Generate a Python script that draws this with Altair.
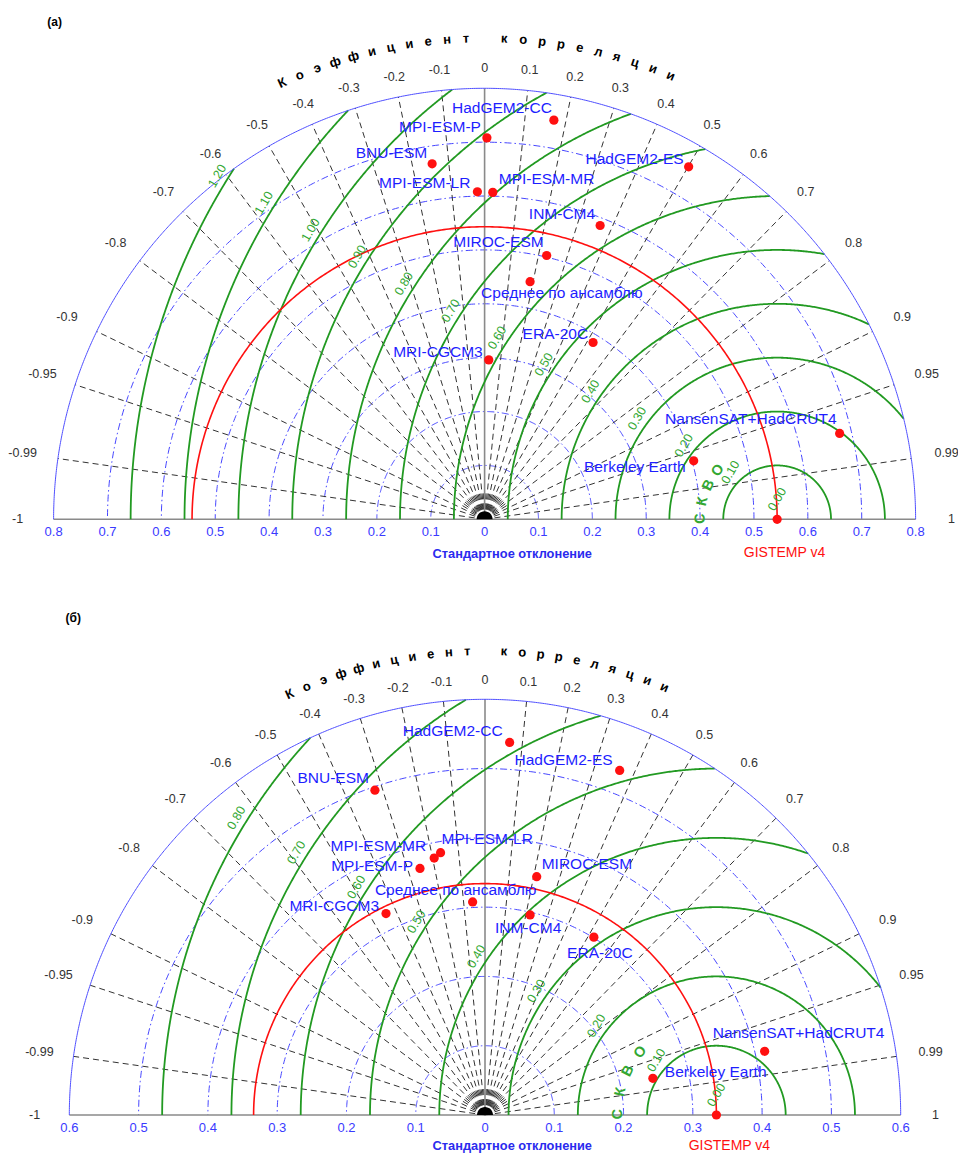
import math
import numpy as np
import pandas as pd
import altair as alt

# ---------------- data ----------------
models = ["HadGEM2-CC", "HadGEM2-ES", "BNU-ESM", "MPI-ESM-P", "MPI-ESM-LR",
          "MPI-ESM-MR", "INM-CM4", "MIROC-ESM", "Среднее по ансамблю",
          "ERA-20C", "MRI-CGCM3", "NansenSAT+HadCRUT4", "Berkeley Earth"]

# panel (a)
std_a = [0.752, 0.756, 0.667, 0.708, 0.608, 0.607, 0.586, 0.503, 0.449, 0.385, 0.296, 0.678, 0.403]
corr_a = [0.171, 0.501, -0.146, 0.006, -0.022, 0.025, 0.366, 0.229, 0.188, 0.523, 0.026, 0.972, 0.963]
ref_std_a = 0.543

# panel (б)
std_b = [0.539, 0.534, 0.495, 0.368, 0.384, 0.378, 0.296, 0.352, 0.308, 0.301, 0.324, 0.414, 0.248]
corr_b = [0.066, 0.364, -0.321, -0.255, -0.167, -0.194, 0.220, 0.212, -0.058, 0.522, -0.441, 0.975, 0.977]
ref_std_b = 0.334

ref_name = "GISTEMP v4"
corr_ticks = [-1, -0.99, -0.95, -0.9, -0.8, -0.7, -0.6, -0.5, -0.4, -0.3, -0.2, -0.1, 0,
              0.1, 0.2, 0.3, 0.4, 0.5, 0.6, 0.7, 0.8, 0.9, 0.95, 0.99, 1]
std_ticks_a = [-0.8, -0.7, -0.6, -0.5, -0.4, -0.3, -0.2, -0.1, 0, 0.1, 0.2, 0.3, 0.4, 0.5, 0.6, 0.7, 0.8]
std_ticks_b = [-0.6, -0.5, -0.4, -0.3, -0.2, -0.1, 0, 0.1, 0.2, 0.3, 0.4, 0.5, 0.6]
std_circles_a = [0.1, 0.2, 0.3, 0.4, 0.5, 0.6, 0.7]
std_circles_b = [0.1, 0.2, 0.3, 0.4, 0.5]
rmsd_a = [0.1, 0.2, 0.3, 0.4, 0.5, 0.6, 0.7, 0.8, 0.9, 1.0, 1.1, 1.2]
rmsd_b = [0.1, 0.2, 0.3, 0.4, 0.5, 0.6, 0.7, 0.8]

title_corr = "Коэффициент корреляции"
title_std = "Стандартное отклонение"
title_rmsd = "СКВО"

# ---------------- styles ----------------
PANEL_W = 958
PANEL_H = 577
FONT = "Liberation Sans"
BLUE_LINE = "#4f4fff"
BLUE_DASH = "#4646ff"
BLUE_TXT = "#1e1eff"
GREEN = "#229a22"
GREEN_TXT = "#33a833"
RED = "#ff1010"
GRAY = "#8a8a8a"
BLACK_RAY = "#333333"

# label placement (align, dx px, dy px) relative to marker
lab_a = {
    "HadGEM2-CC": ("right", -2, -12), "HadGEM2-ES": ("right", -5, -8),
    "BNU-ESM": ("right", -5, -11), "MPI-ESM-P": ("right", -6, -11),
    "MPI-ESM-LR": ("right", -7, -9), "MPI-ESM-MR": ("left", 6, -13),
    "INM-CM4": ("right", -5, -11), "MIROC-ESM": ("right", -3, -14),
    "Среднее по ансамблю": ("left", -49, 11), "ERA-20C": ("right", -5, -9),
    "MRI-CGCM3": ("right", -6, -8), "NansenSAT+HadCRUT4": ("right", -3, -14),
    "Berkeley Earth": ("right", -8, 6),
}
lab_b = {
    "HadGEM2-CC": ("right", -7, -11), "HadGEM2-ES": ("right", -7, -10),
    "BNU-ESM": ("right", -6, -12), "MPI-ESM-P": ("right", -7, -2),
    "MPI-ESM-LR": ("left", 1, -14), "MPI-ESM-MR": ("right", -8, -12),
    "INM-CM4": ("center", -2, 13), "MIROC-ESM": ("left", 5, -13),
    "Среднее по ансамблю": ("center", -17, -12), "ERA-20C": ("center", 6, 16),
    "MRI-CGCM3": ("right", -7, -8), "NansenSAT+HadCRUT4": ("center", 34, -18),
    "Berkeley Earth": ("left", 12, -6),
}


def circle_rows(rows, g, x0, r, phi0=0.0, phi1=math.pi, n=361):
    for i, p in enumerate(np.linspace(phi0, phi1, n)):
        rows.append({"x": x0 + r * math.cos(p), "y": r * math.sin(p), "g": g, "o": i})


def ray_rows(rows, g, c, r0, r1):
    th = math.acos(c)
    for i, r in enumerate((r0, r1)):
        rows.append({"x": r * math.cos(th), "y": r * math.sin(th), "g": g, "o": i})


def panel(tag, tag_px, std, corr, ref, rmax, circ, rmsd, ticks, s, cx, cy,
          labs, std_title_px, ref_lab_px):
    xs = alt.Scale(domain=[-cx / s, (PANEL_W - cx) / s], nice=False, zero=False)
    ys = alt.Scale(domain=[(cy - PANEL_H) / s, cy / s], nice=False, zero=False)

    def enc(ch, **kw):
        return ch.encode(x=alt.X("x:Q", scale=xs, axis=None),
                         y=alt.Y("y:Q", scale=ys, axis=None), **kw)

    def line_layer(rows, color, width, dash=None, opacity=1.0):
        mk = dict(color=color, strokeWidth=width, opacity=opacity)
        if dash:
            mk["strokeDash"] = dash
        return enc(alt.Chart(pd.DataFrame(rows)).mark_line(**mk),
                   detail="g:N", order=alt.Order("o:Q"))

    layers = []
    # std circles (blue dash-dot)
    rows = []
    for k, r in enumerate(circ):
        circle_rows(rows, k, 0.0, r)
    layers.append(line_layer(rows, BLUE_DASH, 1.0, [7, 3, 1.5, 3]))

    # correlation rays
    rows = []
    majors = [c for c in corr_ticks if c not in (-1, 0, 1)]
    for k, c in enumerate(majors):
        ray_rows(rows, k, c, 0.0, rmax)
    layers.append(line_layer(rows, BLACK_RAY, 1.0, [6, 4]))
    rows = []
    minors = [round(k / 20, 2) for k in range(-19, 20, 2) if abs(k) != 19]
    for k, c in enumerate(minors):
        ray_rows(rows, k, c, 0.0, 30.0 / s)
    layers.append(line_layer(rows, BLACK_RAY, 1.0, [6, 4]))

    # gray baseline and zero ray
    rows = [{"x": -rmax, "y": 0, "g": 0, "o": 0}, {"x": rmax, "y": 0, "g": 0, "o": 1},
            {"x": 0, "y": 0, "g": 1, "o": 0}, {"x": 0, "y": rmax, "g": 1, "o": 1}]
    layers.append(line_layer(rows, GRAY, 1.6))

    # RMSD circles (green), clipped to outer circle
    rows = []
    for k, r in enumerate(rmsd):
        kk = (rmax ** 2 - ref ** 2 - r ** 2) / (2 * ref * r)
        if kk < -1:
            continue
        phi0 = math.acos(min(1.0, kk))
        circle_rows(rows, k, ref, r, phi0, math.pi)
    layers.append(line_layer(rows, GREEN, 1.8))

    # reference std circle (red)
    rows = []
    circle_rows(rows, 0, 0.0, ref)
    layers.append(line_layer(rows, RED, 1.6))

    # outer circle
    rows = []
    circle_rows(rows, 0, 0.0, rmax, n=721)
    layers.append(line_layer(rows, BLUE_LINE, 1.0))

    # center blob
    layers.append(enc(alt.Chart(pd.DataFrame({"x": [0.0], "y": [0.0]})).mark_point(
        shape="M-1,0A1,1,0,0,1,1,0Z", size=256, filled=True, color="black", opacity=1)))

    # correlation tick labels
    rows = []
    for c in corr_ticks:
        th = math.acos(c)
        r = rmax * (1.0464 + 0.0371 * c * c)
        rows.append({"x": r * math.cos(th), "y": r * math.sin(th), "t": f"{c:g}"})
    layers.append(enc(alt.Chart(pd.DataFrame(rows)).mark_text(
        font=FONT, fontSize=12.5, color="#333333", align="center", baseline="middle", clip=True),
        text="t:N"))

    # correlation title letters along arc
    rows = []
    for i, ch in enumerate(title_corr):
        if ch == " ":
            continue
        thd = 114.9 - 2.27 * i
        th = math.radians(thd)
        r = rmax * 1.116
        rows.append({"x": r * math.cos(th), "y": r * math.sin(th), "t": ch,
                     "rot": (90 - thd) % 360})
    layers.append(enc(alt.Chart(pd.DataFrame(rows)).mark_text(
        font=FONT, fontSize=13, fontWeight="bold", color="black", align="center", baseline="middle"),
        text="t:N", angle=alt.Angle("rot:Q", scale=None)))

    # std tick labels
    rows = [{"x": v, "y": 0.0, "t": f"{abs(v):g}"} for v in ticks]
    layers.append(enc(alt.Chart(pd.DataFrame(rows)).mark_text(
        font=FONT, fontSize=13, color="#3a3aff", align="center", baseline="middle", dy=12.5),
        text="t:N"))

    # std title
    rows = [{"x": std_title_px[0] / s, "y": -std_title_px[1] / s, "t": title_std}]
    layers.append(enc(alt.Chart(pd.DataFrame(rows)).mark_text(
        font=FONT, fontSize=12.8, fontWeight="bold", color="#2a2aee", align="center", baseline="middle"),
        text="t:N"))

    # RMSD labels
    rows = []
    ph = math.radians(150)
    for r in [0.0] + rmsd:
        rows.append({"x": ref + r * math.cos(ph), "y": r * math.sin(ph) + 6.0 / s, "t": f"{r:.2f}"})
    layers.append(enc(alt.Chart(pd.DataFrame(rows)).mark_text(
        font=FONT, fontSize=12.5, color=GREEN_TXT, align="left", baseline="bottom", angle=300),
        text="t:N"))

    # СКВО letters
    rows = []
    for i, ch in enumerate(title_rmsd):
        phd = 179.5 - 13.0 * i
        p = math.radians(phd)
        rr = 0.142
        rows.append({"x": ref + rr * math.cos(p), "y": rr * math.sin(p), "t": ch,
                     "rot": (90 - phd) % 360})
    layers.append(enc(alt.Chart(pd.DataFrame(rows)).mark_text(
        font=FONT, fontSize=14.5, fontWeight="bold", color=GREEN_TXT, align="center", baseline="middle"),
        text="t:N", angle=alt.Angle("rot:Q", scale=None)))

    # points
    px = [sd * c for sd, c in zip(std, corr)] + [ref]
    py = [sd * math.sqrt(max(0.0, 1 - c * c)) for sd, c in zip(std, corr)] + [0.0]
    layers.append(enc(alt.Chart(pd.DataFrame({"x": px, "y": py})).mark_circle(
        size=85, color=RED, opacity=1)))

    # model labels
    for al in ("left", "right", "center"):
        rows = []
        for m, sd, c in zip(models, std, corr):
            a, dx, dy = labs[m]
            if a != al:
                continue
            x = sd * c + dx / s
            y = sd * math.sqrt(1 - c * c) - dy / s
            rows.append({"x": x, "y": y, "t": m})
        if rows:
            layers.append(enc(alt.Chart(pd.DataFrame(rows)).mark_text(
                font=FONT, fontSize=15.5, color=BLUE_TXT, align=al, baseline="middle"),
                text="t:N"))

    # reference label
    rows = [{"x": ref + ref_lab_px[0] / s, "y": -ref_lab_px[1] / s, "t": ref_name}]
    layers.append(enc(alt.Chart(pd.DataFrame(rows)).mark_text(
        font=FONT, fontSize=14, color=RED, align="center", baseline="middle"), text="t:N"))

    # panel tag
    rows = [{"x": (tag_px[0] - cx) / s, "y": (cy - tag_px[1]) / s, "t": tag}]
    layers.append(enc(alt.Chart(pd.DataFrame(rows)).mark_text(
        font=FONT, fontSize=12, fontWeight="bold", color="black", align="center", baseline="middle"),
        text="t:N"))

    return alt.layer(*layers).properties(width=PANEL_W, height=PANEL_H)


pa = panel("(a)", (54.7, 21.7), std_a, corr_a, ref_std_a, 0.8, std_circles_a, rmsd_a,
           std_ticks_a, 538.75, 484.6, 519.3, lab_a, (27.7, 34.7), (7.4, 33.4))
pb = panel("(б)", (73.3, 41.3), std_b, corr_b, ref_std_b, 0.6, std_circles_b, rmsd_b,
           std_ticks_b, 692.8, 485.0, 538.0, lab_b, (27.3, 30.5), (13.0, 31.0))

chart = (alt.vconcat(pa, pb, spacing=0)
         .resolve_scale(x="independent", y="independent")
         .properties(padding=0)
         .configure_view(stroke=None))

chart.save("out.html", embed_options={"renderer": "svg", "actions": False})
